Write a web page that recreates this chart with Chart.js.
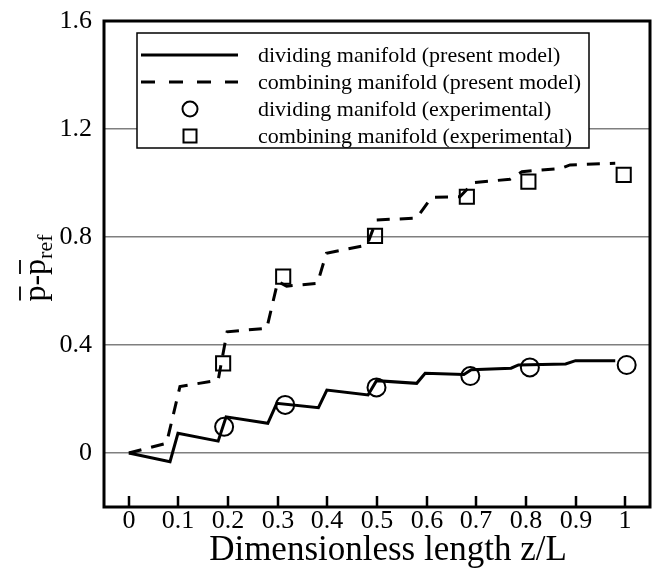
<!DOCTYPE html>
<html><head><meta charset="utf-8">
<script src="https://cdn.jsdelivr.net/npm/chart.js@4.4.1/dist/chart.umd.min.js"></script>
<style>html,body{margin:0;padding:0;background:#fff;}</style>
</head><body>
<canvas id="c" width="652" height="570"></canvas>
<script>
// ---- data ----
const xTicks = [0, 0.1, 0.2, 0.3, 0.4, 0.5, 0.6, 0.7, 0.8, 0.9, 1];
const xTickLabels = ['0', '0.1', '0.2', '0.3', '0.4', '0.5', '0.6', '0.7', '0.8', '0.9', '1'];
const yTicks = [0, 0.4, 0.8, 1.2, 1.6];
const yTickLabels = ['0', '0.4', '0.8', '1.2', '1.6'];

const seriesNames = [
  'dividing manifold (present model)',
  'combining manifold (present model)',
  'dividing manifold (experimental)',
  'combining manifold (experimental)'
];

const divModelX = [0, 0.083, 0.099, 0.18, 0.196, 0.28, 0.298, 0.382, 0.399, 0.482, 0.499, 0.58, 0.597, 0.675, 0.69, 0.77, 0.785, 0.88, 0.9, 0.98];
const divModelY = [0, -0.032, 0.073, 0.044, 0.134, 0.11, 0.184, 0.168, 0.233, 0.215, 0.268, 0.258, 0.295, 0.291, 0.308, 0.314, 0.326, 0.33, 0.342, 0.342];

const combModelX = [0, 0.076, 0.103, 0.18, 0.198, 0.278, 0.3, 0.318, 0.38, 0.398, 0.48, 0.499, 0.58, 0.61, 0.667, 0.694, 0.768, 0.792, 0.87, 0.889, 0.98];
const combModelY = [0, 0.036, 0.246, 0.27, 0.449, 0.462, 0.635, 0.618, 0.628, 0.74, 0.77, 0.863, 0.87, 0.947, 0.949, 1.001, 1.014, 1.042, 1.054, 1.067, 1.073];

const divExpX = [0.192, 0.315, 0.499, 0.688, 0.808, 1.003];
const divExpY = [0.097, 0.178, 0.243, 0.285, 0.317, 0.326];

const combExpX = [0.19, 0.311, 0.496, 0.681, 0.805, 0.997];
const combExpY = [0.332, 0.653, 0.804, 0.949, 1.005, 1.03];

const yTitleMain = 'p-p';
const yTitleSub = 'ref';
const xTitle = 'Dimensionless length z/L';

// ---- helpers ----
const FONT = '"Liberation Serif", "Times New Roman", serif';
const pts = (xs, ys) => xs.map((x, i) => ({ x: x, y: ys[i] }));
const DASH = [13, 10];

const framePlugin = {
  id: 'frame',
  afterDraw(chart) {
    const { ctx, chartArea: a, scales } = chart;
    ctx.save();
    ctx.strokeStyle = '#000';
    ctx.fillStyle = '#000';
    // inward x ticks + tick labels
    ctx.lineWidth = 2.5;
    ctx.font = '26px ' + FONT;
    ctx.textAlign = 'center';
    ctx.textBaseline = 'middle';
    xTicks.forEach((v, i) => {
      const px = Math.round(scales.x.getPixelForValue(v));
      ctx.beginPath();
      ctx.moveTo(px, a.bottom);
      ctx.lineTo(px, a.bottom - 11);
      ctx.stroke();
      ctx.fillText(xTickLabels[i], px, a.bottom + 14);
    });
    // x title
    ctx.font = '35px ' + FONT;
    ctx.fillText(xTitle, 388, 551);

    // frame
    ctx.lineWidth = 3;
    ctx.strokeRect(a.left, a.top, a.right - a.left, a.bottom - a.top);

    // legend
    const bx = 137, by = 33, bw = 452, bh = 115;
    ctx.fillStyle = '#fff';
    ctx.fillRect(bx, by, bw, bh);
    ctx.lineWidth = 1.5;
    ctx.strokeRect(bx, by, bw, bh);
    const rows = [55, 82, 109, 136];
    const lx0 = 141, lx1 = 238, mx = 190, tx = 258;
    ctx.lineWidth = 3;
    ctx.setLineDash([]);
    ctx.beginPath(); ctx.moveTo(lx0, rows[0]); ctx.lineTo(lx1, rows[0]); ctx.stroke();
    ctx.setLineDash([14, 14]);
    ctx.beginPath(); ctx.moveTo(lx0, rows[1]); ctx.lineTo(lx1, rows[1]); ctx.stroke();
    ctx.setLineDash([]);
    ctx.lineWidth = 2;
    ctx.beginPath(); ctx.arc(mx, rows[2], 7.5, 0, Math.PI * 2); ctx.stroke();
    ctx.strokeRect(mx - 6.5, rows[3] - 6.5, 13, 13);
    ctx.fillStyle = '#000';
    ctx.font = '22px ' + FONT;
    ctx.textBaseline = 'middle';
    ctx.textAlign = 'left';
    seriesNames.forEach((t, i) => ctx.fillText(t, tx, rows[i] + 1));

    // y-axis title with overlines and subscript
    ctx.translate(45, 268);
    ctx.rotate(-Math.PI / 2);
    ctx.font = '32px ' + FONT;
    const wMain = ctx.measureText(yTitleMain).width;
    const wP = ctx.measureText('p').width;
    const wPd = ctx.measureText('p-').width;
    ctx.font = '22px ' + FONT;
    const wSub = ctx.measureText(yTitleSub).width;
    const x0 = -(wMain + wSub) / 2;
    ctx.textBaseline = 'alphabetic';
    ctx.font = '32px ' + FONT;
    ctx.fillText(yTitleMain, x0, 0);
    ctx.font = '22px ' + FONT;
    ctx.fillText(yTitleSub, x0 + wMain, 7);
    ctx.lineWidth = 1.8;
    ctx.beginPath();
    ctx.moveTo(x0 + 1, -25); ctx.lineTo(x0 + wP - 1, -25);
    ctx.moveTo(x0 + wPd + 1, -25); ctx.lineTo(x0 + wMain - 1, -25);
    ctx.stroke();
    ctx.restore();
  }
};

new Chart(document.getElementById('c').getContext('2d'), {
  type: 'scatter',
  data: {
    datasets: [
      {
        label: seriesNames[0], data: pts(divModelX, divModelY), showLine: true,
        borderColor: '#000', borderWidth: 3, pointRadius: 0, tension: 0, fill: false
      },
      {
        label: seriesNames[1], data: pts(combModelX, combModelY), showLine: true,
        borderColor: '#000', borderWidth: 3, borderDash: DASH, pointRadius: 0, tension: 0, fill: false
      },
      {
        label: seriesNames[2], data: pts(divExpX, divExpY), showLine: false,
        pointStyle: 'circle', pointRadius: 9, borderWidth: 2,
        borderColor: '#000', backgroundColor: 'rgba(0,0,0,0)'
      },
      {
        label: seriesNames[3], data: pts(combExpX, combExpY), showLine: false,
        pointStyle: 'rect', pointRadius: 10, borderWidth: 2,
        borderColor: '#000', backgroundColor: 'rgba(0,0,0,0)'
      }
    ]
  },
  options: {
    responsive: false,
    animation: false,
    devicePixelRatio: 1,
    layout: { autoPadding: false, padding: { top: 21, right: 2, left: 0, bottom: 0 } },
    plugins: { legend: { display: false }, tooltip: { enabled: false } },
    scales: {
      x: {
        type: 'linear', min: -0.05, max: 1.05,
        afterBuildTicks: s => { s.ticks = xTicks.map(v => ({ value: v })); },
        afterFit: s => { s.height = 63; },
        grid: { display: false, drawTicks: false },
        border: { display: false },
        ticks: { display: false },
        title: { display: false }
      },
      y: {
        type: 'linear', min: -0.2, max: 1.6,
        afterBuildTicks: s => { s.ticks = yTicks.map(v => ({ value: v })); },
        afterFit: s => { s.width = 104; s.paddingTop = 0; s.paddingBottom = 0; },
        grid: { color: '#7f7f7f', lineWidth: 1.5, drawTicks: false },
        border: { display: false },
        ticks: {
          padding: 12, color: '#000',
          font: { family: FONT, size: 26 },
          callback: (v, i) => yTickLabels[i]
        }
      }
    }
  },
  plugins: [framePlugin]
});
</script>
</body></html>
